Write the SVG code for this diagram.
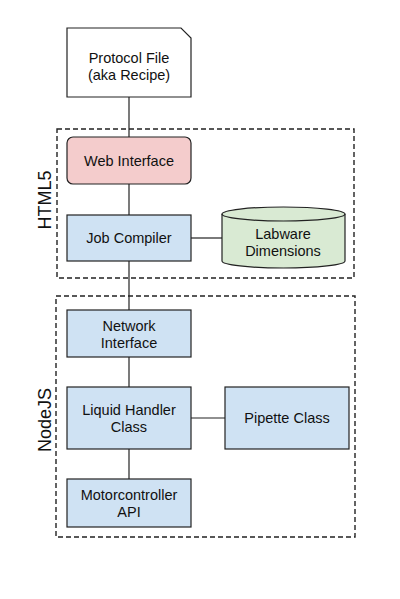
<svg xmlns="http://www.w3.org/2000/svg" width="400" height="599" viewBox="0 0 400 599">
<style>
.n{stroke:#222;stroke-width:1.2}
.b{fill:#cfe2f3}
.t{font-family:"Liberation Sans",Arial,sans-serif;font-size:14.5px;fill:#111;text-anchor:middle}
.g{font-family:"Liberation Sans",Arial,sans-serif;font-size:18px;fill:#111;text-anchor:middle}
.d{fill:none;stroke:#222;stroke-width:1.4;stroke-dasharray:5,3}
.c{stroke:#222;stroke-width:1.2;fill:none}
</style>
<rect width="400" height="599" fill="#fff"/>
<g id="group-html5">
<rect class="d" x="57" y="129" width="297" height="149"/>
<text class="g" transform="translate(51,200) rotate(-90)">HTML5</text>
</g>
<g id="group-nodejs">
<rect class="d" x="56" y="296" width="299" height="241"/>
<text class="g" transform="translate(51,420) rotate(-90)">NodeJS</text>
</g>
<g id="connectors">
<line class="c" x1="129" y1="97" x2="129" y2="137"/>
<line class="c" x1="129" y1="184" x2="129" y2="215"/>
<line class="c" x1="191" y1="238" x2="222" y2="238"/>
<line class="c" x1="129" y1="261" x2="129" y2="310"/>
<line class="c" x1="129" y1="357" x2="129" y2="387"/>
<line class="c" x1="191" y1="418" x2="225" y2="418"/>
<line class="c" x1="129" y1="449" x2="129" y2="479"/>
</g>
<g id="protocol-file">
<path class="n" fill="#fff" d="M67,28 H181 L191,38 V97 H67 Z"/>
<text class="t" x="129" y="63">Protocol File</text>
<text class="t" x="129" y="80">(aka Recipe)</text>
</g>
<g id="web-interface">
<rect class="n" fill="#f4cccc" x="67" y="137" width="124" height="47" rx="6"/>
<text class="t" x="129" y="166">Web Interface</text>
</g>
<g id="job-compiler">
<rect class="n b" x="67" y="215" width="124" height="46"/>
<text class="t" x="129" y="243">Job Compiler</text>
</g>
<g id="labware-dimensions">
<path class="n" fill="#d9ead3" d="M222,214 A61.5,7 0 0 1 345,214 V261 A61.5,7 0 0 1 222,261 Z"/>
<path class="n" fill="none" d="M222,214 A61.5,7 0 0 0 345,214"/>
<text class="t" x="283" y="239">Labware</text>
<text class="t" x="283" y="256">Dimensions</text>
</g>
<g id="network-interface">
<rect class="n b" x="67" y="310" width="124" height="47"/>
<text class="t" x="129" y="331">Network</text>
<text class="t" x="129" y="348">Interface</text>
</g>
<g id="liquid-handler">
<rect class="n b" x="67" y="387" width="124" height="62"/>
<text class="t" x="129" y="415">Liquid Handler</text>
<text class="t" x="129" y="432">Class</text>
</g>
<g id="pipette-class">
<rect class="n b" x="225" y="387" width="124" height="62"/>
<text class="t" x="287" y="423">Pipette Class</text>
</g>
<g id="motorcontroller">
<rect class="n b" x="67" y="479" width="124" height="48"/>
<text class="t" x="129" y="500">Motorcontroller</text>
<text class="t" x="129" y="517">API</text>
</g>
</svg>
